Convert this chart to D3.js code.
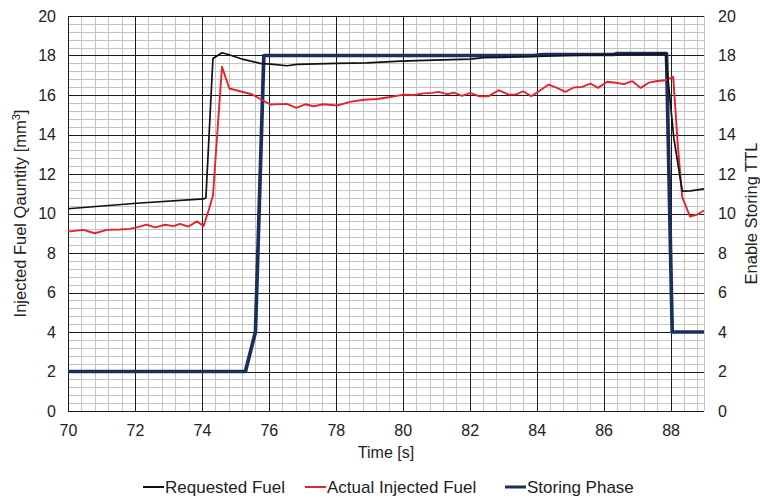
<!DOCTYPE html>
<html>
<head>
<meta charset="utf-8">
<script src="https://cdn.jsdelivr.net/npm/d3@7"></script>
<style>
  body { margin: 0; background: #fff; }
  text { font-family: "Liberation Sans", Arial, sans-serif; fill: #222; }
</style>
</head>
<body>
<div id="chart"></div>
<script>
// data
var xTicks = [70, 72, 74, 76, 78, 80, 82, 84, 86, 88];
var yTicks = [0, 2, 4, 6, 8, 10, 12, 14, 16, 18, 20];

var reqTime = [70, 72.05, 74.05, 74.12, 74.33, 74.6, 74.79, 75.24, 75.74, 76.14, 76.54, 76.84, 78.04, 78.93, 79.93, 80.93, 82.02, 82.42, 82.92, 84, 85, 86.5, 87.85, 88.1, 88.35, 88.6, 89];
var requestedFuel = [10.24, 10.52, 10.74, 10.8, 17.85, 18.14, 18.05, 17.8, 17.6, 17.55, 17.48, 17.55, 17.6, 17.63, 17.72, 17.77, 17.82, 17.89, 17.9, 17.95, 18.0, 18.05, 18.1, 13.8, 11.13, 11.15, 11.25];

var actTime = [70, 70.46, 70.8, 71.16, 71.55, 71.85, 72.05, 72.35, 72.6, 72.9, 73.15, 73.35, 73.6, 73.85, 74.05, 74.2, 74.33, 74.6, 74.82, 75.49, 75.69, 76.04, 76.54, 76.82, 77.09, 77.34, 77.63, 78.04, 78.43, 78.83, 79.23, 79.63, 80.03, 80.33, 80.63, 80.88, 81.07, 81.32, 81.53, 81.77, 82.02, 82.27, 82.57, 82.87, 83.17, 83.37, 83.6, 83.84, 84.11, 84.36, 84.61, 84.86, 85.11, 85.36, 85.61, 85.83, 86.11, 86.36, 86.61, 86.86, 87.11, 87.36, 87.6, 87.85, 88.08, 88.22, 88.35, 88.58, 88.8, 89];
var actualFuel = [9.08, 9.17, 9.0, 9.17, 9.19, 9.22, 9.3, 9.44, 9.3, 9.43, 9.36, 9.47, 9.34, 9.6, 9.37, 10.15, 10.9, 17.43, 16.33, 16.04, 15.85, 15.52, 15.55, 15.35, 15.53, 15.43, 15.53, 15.47, 15.65, 15.76, 15.8, 15.9, 16.02, 16.0, 16.08, 16.11, 16.16, 16.04, 16.12, 15.96, 16.11, 15.94, 15.94, 16.24, 16.02, 16.02, 16.19, 15.94, 16.24, 16.53, 16.36, 16.16, 16.38, 16.41, 16.58, 16.36, 16.67, 16.62, 16.55, 16.7, 16.36, 16.63, 16.71, 16.75, 16.92, 13.4, 10.83, 9.85, 9.95, 10.15];

var storeTime = [70, 75.3, 75.6, 75.85, 83.9, 84.2, 86.3, 86.4, 87.88, 88.05, 89];
var storingPhase = [2, 2, 4, 18, 18, 18.05, 18.05, 18.1, 18.1, 4, 4];

var seriesNames = ["Requested Fuel", "Actual Injected Fuel", "Storing Phase"];
var seriesColors = ["#111111", "#e3242b", "#1b2f5e"];
var seriesWidths = [1.7, 1.9, 3.7];

var W = 760, H = 502;
var margin = { top: 16, right: 56, bottom: 91, left: 68 };
var width = W - margin.left - margin.right,
    height = H - margin.top - margin.bottom;

var svg = d3.select("#chart").append("svg")
  .attr("width", W).attr("height", H);
var g = svg.append("g")
  .attr("transform", "translate(" + margin.left + "," + margin.top + ")");

var x = d3.scaleLinear().domain([70, 89]).range([0, width]);
var y = d3.scaleLinear().domain([0, 20]).range([height, 0]);
var y2 = d3.scaleLinear().domain([0, 20]).range([height, 0]);

// minor grid every 0.4
var minorX = d3.range(70, 89.001, 0.4).concat([89]);
var minorY = d3.range(0, 20.001, 0.4);

g.append("g").selectAll("line").data(minorX).enter().append("line")
  .attr("x1", d => Math.round(x(d)) + 0.5).attr("x2", d => Math.round(x(d)) + 0.5)
  .attr("y1", 0).attr("y2", height)
  .attr("stroke", "#c4c4c4").attr("stroke-width", 1);
g.append("g").selectAll("line").data(minorY).enter().append("line")
  .attr("y1", d => Math.round(y(d)) + 0.5).attr("y2", d => Math.round(y(d)) + 0.5)
  .attr("x1", 0).attr("x2", width)
  .attr("stroke", "#c4c4c4").attr("stroke-width", 1);

// major grid
g.append("g").selectAll("line").data(xTicks).enter().append("line")
  .attr("x1", d => Math.round(x(d)) + 0.5).attr("x2", d => Math.round(x(d)) + 0.5)
  .attr("y1", 0).attr("y2", height)
  .attr("stroke", "#1a1a1a").attr("stroke-width", 1);
g.append("g").selectAll("line").data(yTicks).enter().append("line")
  .attr("y1", d => Math.round(y(d)) + 0.5).attr("y2", d => Math.round(y(d)) + 0.5)
  .attr("x1", 0).attr("x2", width)
  .attr("stroke", "#1a1a1a").attr("stroke-width", 1);

// axes
var xAxis = g.append("g")
  .attr("transform", "translate(0," + height + ")")
  .call(d3.axisBottom(x).tickValues(xTicks).tickSize(0).tickPadding(14));
var yAxis = g.append("g")
  .call(d3.axisLeft(y).tickValues(yTicks).tickSize(0).tickPadding(12));
var yAxis2 = g.append("g")
  .attr("transform", "translate(" + width + ",0)")
  .call(d3.axisRight(y2).tickValues(yTicks).tickSize(0).tickPadding(14));

[xAxis, yAxis, yAxis2].forEach(a => {
  a.select(".domain").remove();
  a.selectAll("text").style("font-size", "16px").attr("fill", "#222");
});

// lines
var line = d3.line().x(d => x(d[0])).y(d => y(d[1]));
var seriesData = [
  d3.zip(reqTime, requestedFuel),
  d3.zip(actTime, actualFuel),
  d3.zip(storeTime, storingPhase)
];
var order = [2, 1, 0];
order.forEach(i => {
  g.append("path")
    .datum(seriesData[i])
    .attr("d", line)
    .attr("fill", "none")
    .attr("stroke", seriesColors[i])
    .attr("stroke-width", seriesWidths[i])
    .attr("stroke-linejoin", "round");
});

// axis titles
svg.append("text")
  .attr("transform", "translate(" + (margin.left + width / 2) + "," + 458 + ")")
  .attr("text-anchor", "middle")
  .style("font-size", "16px")
  .text("Time [s]");

var lt = svg.append("text")
  .attr("transform", "translate(26," + (margin.top + height / 2) + ") rotate(-90)")
  .attr("text-anchor", "middle")
  .style("font-size", "16.5px");
lt.append("tspan").text("Injected Fuel Qauntity [mm");
lt.append("tspan").attr("dy", -6).style("font-size", "11px").text("3");
lt.append("tspan").attr("dy", 6).text("]");

svg.append("text")
  .attr("transform", "translate(757," + (margin.top + height / 2) + ") rotate(-90)")
  .attr("text-anchor", "middle")
  .style("font-size", "16.5px")
  .text("Enable Storing TTL");

// legend
var legX = [143, 305, 505];
var leg = svg.append("g").attr("transform", "translate(0,487)");
seriesNames.forEach((name, i) => {
  leg.append("line")
    .attr("x1", legX[i]).attr("x2", legX[i] + 21)
    .attr("y1", 0).attr("y2", 0)
    .attr("stroke", seriesColors[i])
    .attr("stroke-width", i === 2 ? 3 : 2);
  leg.append("text")
    .attr("x", legX[i] + 22).attr("y", 0).attr("dy", "0.35em")
    .style("font-size", "17px")
    .text(name);
});
</script>
</body>
</html>
